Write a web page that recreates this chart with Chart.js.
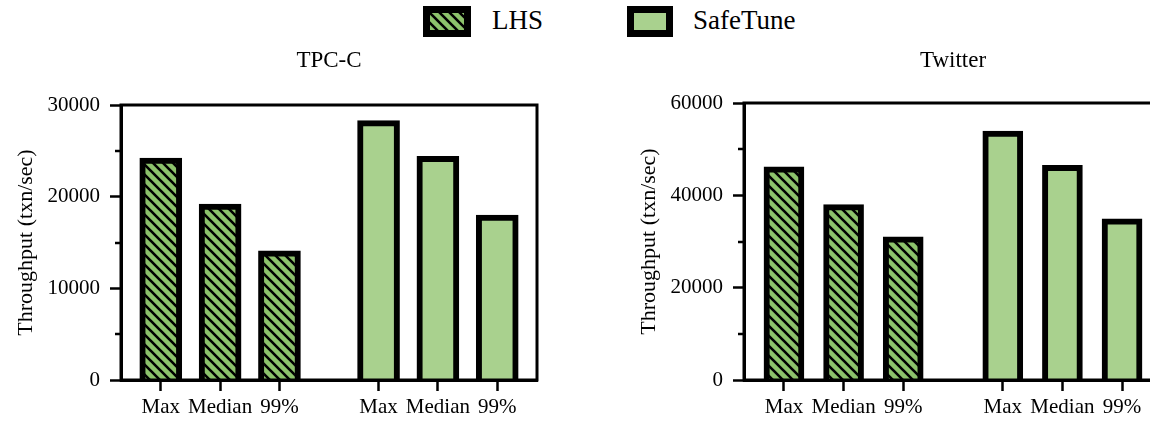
<!DOCTYPE html>
<html>
<head>
<meta charset="utf-8">
<title>Throughput: LHS vs SafeTune</title>
<script src="https://cdn.jsdelivr.net/npm/chart.js@4.4.1/dist/chart.umd.min.js"></script>
<style>
  html, body { margin: 0; padding: 0; background: #fff; }
  body { width: 1150px; height: 422px; overflow: hidden; position: relative; }
  canvas.panel { position: absolute; top: 0; }
  #tpcc { left: 0; }
  #twitter { left: 623px; }
  .swatch { position: absolute; top: 6px; }
  .legtext { position: absolute; top: 7px; font: 27px "Liberation Serif", "Times New Roman", serif; line-height: 27px; color: #000; white-space: nowrap; }
</style>
</head>
<body>
<canvas id="swLHS" class="swatch" width="48" height="31" style="left:423px"></canvas>
<div class="legtext" style="left:492px">LHS</div>
<canvas id="swSafe" class="swatch" width="46" height="31" style="left:627px"></canvas>
<div class="legtext" style="left:693px">SafeTune</div>

<canvas id="tpcc" class="panel" width="560" height="422"></canvas>
<canvas id="twitter" class="panel" width="562" height="422"></canvas>

<script>
// ---- data ----
const categories = ['Max', 'Median', '99%'];
const seriesNames = ['LHS', 'SafeTune'];
const tpccLHS = [24200, 19200, 14100];
const tpccSafeTune = [28300, 24400, 18000];
const twitterLHS = [46200, 38000, 31000];
const twitterSafeTune = [53900, 46500, 34900];
const tpccYMax = 30000, tpccYStep = 10000;
const twitterYMax = 60000, twitterYStep = 20000;
const yTitle = 'Throughput (txn/sec)';

// ---- styling ----
const SERIF = '"Liberation Serif", "Times New Roman", serif';
const HATCH_GREEN = '#8cc26b';
const SOLID_GREEN = '#a9d18e';

// slot layout along the x axis (in category-slot units)
const EDGE = 0.67;     // space between the frame and the outer bars
const GAP = 1.67;      // distance between the two groups' neighbouring bars
const XMAX = EDGE * 2 + (categories.length - 1) * 2 + GAP;
const lhsPos = i => EDGE + i;
const safePos = i => EDGE + (categories.length - 1) + GAP + i;

function hatchPattern(ctx) {
  const s = 10;
  const c = document.createElement('canvas');
  c.width = s; c.height = s;
  const g = c.getContext('2d');
  g.fillStyle = HATCH_GREEN;
  g.fillRect(0, 0, s, s);
  g.strokeStyle = '#000';
  g.lineWidth = 2.6;
  g.beginPath();
  g.moveTo(-1, -1); g.lineTo(s + 1, s + 1);
  g.moveTo(-1, s - 1); g.lineTo(1, s + 1);
  g.moveTo(s - 1, -1); g.lineTo(s + 1, 1);
  g.stroke();
  return ctx.createPattern(c, 'repeat');
}

// closed frame around the plotting area
const framePlugin = {
  id: 'frame',
  afterDatasetsDraw(chart) {
    const { ctx, chartArea: a } = chart;
    ctx.save();
    ctx.strokeStyle = '#000';
    ctx.lineWidth = 3;
    ctx.strokeRect(a.left, a.top, a.right - a.left, a.bottom - a.top);
    ctx.restore();
  }
};

// short unlabelled ticks halfway between the labelled ones
const minorTickPlugin = {
  id: 'minorTicks',
  afterDraw(chart) {
    const y = chart.scales.y;
    const step = chart.options.scales.y.ticks.stepSize;
    const ctx = chart.ctx;
    ctx.save();
    ctx.strokeStyle = '#000';
    ctx.lineWidth = 2.5;
    for (let v = step / 2; v < y.max; v += step) {
      const py = Math.round(y.getPixelForValue(v));
      ctx.beginPath();
      ctx.moveTo(chart.chartArea.left - 6, py);
      ctx.lineTo(chart.chartArea.left, py);
      ctx.stroke();
    }
    ctx.restore();
  }
};

function makePanel(id, title, lhs, safe, yMax, yStep, barThickness, titleBottom) {
  const ctx = document.getElementById(id).getContext('2d');
  const tickPositions = [...categories.map((_, i) => lhsPos(i)), ...categories.map((_, i) => safePos(i))];
  return new Chart(ctx, {
    type: 'bar',
    data: {
      datasets: [
        {
          label: seriesNames[0],
          data: lhs.map((v, i) => ({ x: lhsPos(i), y: v })),
          backgroundColor: hatchPattern(ctx),
          borderColor: '#000',
          borderWidth: 6,
          barThickness: barThickness,
          grouped: false
        },
        {
          label: seriesNames[1],
          data: safe.map((v, i) => ({ x: safePos(i), y: v })),
          backgroundColor: SOLID_GREEN,
          borderColor: '#000',
          borderWidth: 6,
          barThickness: barThickness,
          grouped: false
        }
      ]
    },
    options: {
      responsive: false,
      animation: false,
      devicePixelRatio: 1,
      layout: { padding: { left: 0, right: 23, top: 0, bottom: 0 } },
      plugins: {
        legend: { display: false },
        tooltip: { enabled: false },
        title: {
          display: true,
          fullSize: false,
          text: title,
          color: '#000',
          font: { family: SERIF, size: 23, weight: 'normal' },
          padding: { top: 47, bottom: titleBottom }
        }
      },
      scales: {
        x: {
          type: 'linear',
          min: 0,
          max: XMAX,
          offset: false,
          afterBuildTicks: s => { s.ticks = tickPositions.map(v => ({ value: v })); },
          afterFit: s => { s.height = 42; },
          ticks: {
            autoSkip: false,
            maxRotation: 0,
            padding: 4,
            color: '#000',
            font: { family: SERIF, size: 21 },
            callback: (v, i) => categories[i % categories.length]
          },
          grid: { display: true, drawOnChartArea: false, offset: false, tickLength: 11, tickWidth: 2.5, tickColor: '#000' },
          border: { display: true, width: 3, color: '#000' }
        },
        y: {
          min: 0,
          max: yMax,
          afterFit: s => { s.width = 121; },
          ticks: {
            stepSize: yStep,
            padding: 10,
            color: '#000',
            font: { family: SERIF, size: 21 },
            callback: v => String(v)
          },
          grid: { display: true, drawOnChartArea: false, tickLength: 11, tickWidth: 2.5, tickColor: '#000' },
          border: { display: true, width: 3, color: '#000' },
          title: {
            display: true,
            text: yTitle,
            color: '#000',
            font: { family: SERIF, size: 22 },
            padding: { top: 13, bottom: 0 }
          }
        }
      }
    },
    plugins: [framePlugin, minorTickPlugin]
  });
}

makePanel('tpcc', 'TPC-C', tpccLHS, tpccSafeTune, tpccYMax, tpccYStep, 42, 30.4);
makePanel('twitter', 'Twitter', twitterLHS, twitterSafeTune, twitterYMax, twitterYStep, 40, 28.4);

// legend swatches
function drawSwatch(id, fill) {
  const c = document.getElementById(id);
  const g = c.getContext('2d');
  g.fillStyle = '#000';
  g.fillRect(0, 0, c.width, c.height);
  g.fillStyle = typeof fill === 'function' ? fill(g) : fill;
  g.fillRect(7, 7, c.width - 14, c.height - 14);
}
drawSwatch('swLHS', hatchPattern);
drawSwatch('swSafe', SOLID_GREEN);
</script>
</body>
</html>
